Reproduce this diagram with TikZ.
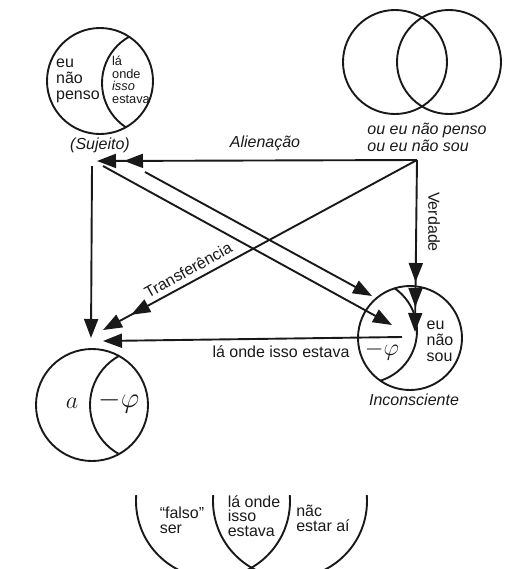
\documentclass[tikz,border=0pt]{standalone}
\usepackage{fontspec}
\setmainfont{Liberation Sans}
\usetikzlibrary{arrows.meta}
\begin{document}
\begin{tikzpicture}[x=0.5pt,y=-0.5pt,line width=0.95pt,draw=black!90,text=black!90,
  lbl/.style={inner sep=0pt,align=left,font=\fontsize{8}{8}\selectfont},
  lbli/.style={inner sep=0pt,align=left,font=\fontsize{8}{8.5}\selectfont\itshape},
  venn/.style={circle,draw,inner sep=0pt,minimum size=#1},
  hd/.style={-{Triangle[length=9.5pt,width=7pt]}},
  hdd/.style={-{Triangle[length=9.5pt,width=7pt,sep=#1]Triangle[length=9.5pt,width=7pt]}},
  hddd/.style={-{Triangle[length=9.5pt,width=7pt,sep=3pt]Triangle[length=9.5pt,width=7pt,sep=3pt]Triangle[length=9.5pt,width=7pt]}}]
\useasboundingbox (0,0) rectangle (509,569);
\node[venn=53pt] (suj) at (100,81) {};
\begin{scope}\clip (suj.center) circle[radius=26.5pt];\draw (155,83) circle[radius=26.5pt];\end{scope}
\node[lbl] (penso) at (78,81) {eu\\não\\penso};
\node[inner sep=0pt,align=left,font=\fontsize{6.4}{6.3}\selectfont] (onde1) at (131,80) {lá\\onde\\\textit{isso}\\estava};
\node[lbli] (sujl) at (100,145) {(Sujeito)};
\node[venn=52pt] (pen) at (395,62) {};
\node[venn=52pt] (sou) at (449,62) {};
\node[lbli] (oueu) at (427,137) {ou eu não penso\\ou eu não sou};
\node[venn=52pt] (inc) at (410,338) {};
\begin{scope}\clip (inc.center) circle[radius=26pt];\draw (365,331) circle[radius=26pt];\end{scope}
\node[lbl] (naosou) at (440,341) {eu\\não\\sou};
\node[inner sep=0pt,font=\large] (phi2) at (382,351) {$-\varphi$};
\node[lbli] (incl) at (414,400) {Inconsciente};
\node[venn=56pt] (pa) at (92,405) {};
\begin{scope}\clip (pa.center) circle[radius=28pt];\draw (146,405) circle[radius=28pt];\end{scope}
\node[inner sep=0pt,font=\large] (ra) at (72,403) {$a$};
\node[inner sep=0pt,font=\Large] (phi1) at (119,402) {$-\varphi$};
\begin{scope}\clip (0,495) rectangle (509,569);
\draw (213,501) circle[radius=38.5pt];\draw (290,501) circle[radius=38.5pt];\end{scope}
\node[lbl,font=\fontsize{8}{7.4}\selectfont] (falso) at (182,520) {“falso”\\ser};
\node[lbl,font=\fontsize{8}{7.2}\selectfont] (onde2) at (254,516) {lá onde\\isso\\estava};
\node[lbl,font=\fontsize{8}{7.4}\selectfont] (estar) at (323,518) {nãc\\estar aí};
\coordinate (p) at (417,160);\coordinate (s) at (97,161);\coordinate (sv) at (92,166);
\coordinate (sa) at (103,166);\coordinate (sb) at (145,172);
\coordinate (av) at (91,338);\coordinate (at) at (103,330);\coordinate (al) at (103,341);
\coordinate (il) at (402,337);\coordinate (ia) at (392,325);\coordinate (ib) at (372,296);\coordinate (iv) at (415,332);
\draw[hdd=4pt] (p)--(s);\draw[hdd=6.5pt] (p)--(at);\draw[hddd] (p)--(iv);
\draw[hd] (sv)--(av);\draw[hd] (sa)--(ia);\draw[hd] (sb)--(ib);\draw[hd] (il)--(al);
\node[lbli] (alien) at (265,143) {Alienação};
\node[lbl,rotate=-90] (verd) at (434,222) {Verdade};
\node[lbl,rotate=29] (transf) at (188,270) {Transferência};
\node[lbl] (onde3) at (281,352) {lá onde isso estava};
\end{tikzpicture}
\end{document}
